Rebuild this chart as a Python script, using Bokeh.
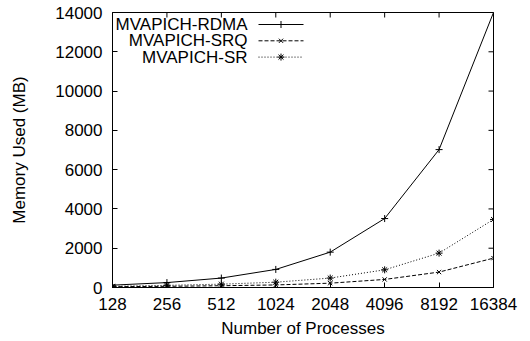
from bokeh.plotting import figure
from bokeh.models import FixedTicker, Label, BasicTickFormatter, Range1d
from bokeh.embed import file_html
from bokeh.resources import INLINE
import math

# ---- data ----
processes = [128, 256, 512, 1024, 2048, 4096, 8192, 16384]
rdma = [120, 250, 480, 920, 1800, 3510, 7020, 14000]
srq = [40, 60, 90, 130, 220, 410, 785, 1495]
sr = [60, 110, 170, 270, 480, 900, 1750, 3465]
series_names = ["MVAPICH-RDMA", "MVAPICH-SRQ", "MVAPICH-SR"]
y_ticks = [0, 2000, 4000, 6000, 8000, 10000, 12000, 14000]

FONT = "Liberation Sans"
FS = "17px"

W, H = 530, 341
L, R, T, B = 112, 37, 12, 54

p = figure(width=W, height=H, x_axis_type="log",
           x_range=Range1d(128, 16384), y_range=Range1d(0, 14000),
           output_backend="svg", toolbar_location=None,
           min_border_left=L, min_border_right=R,
           min_border_top=T, min_border_bottom=B)
p.grid.visible = False
p.outline_line_color = "black"
p.outline_line_width = 1
p.background_fill_color = "white"
p.border_fill_color = "white"

# axes
xa = p.xaxis[0]
xa.ticker = FixedTicker(ticks=processes)
xa.formatter = BasicTickFormatter(use_scientific=False)
ya = p.yaxis[0]
ya.ticker = FixedTicker(ticks=y_ticks)
ya.formatter = BasicTickFormatter(use_scientific=False)
for ax in (xa, ya):
    ax.major_tick_in = 5
    ax.major_tick_out = 0
    ax.minor_tick_line_color = None
    ax.axis_line_color = "black"
    ax.major_tick_line_color = "black"
    ax.major_label_text_font = FONT
    ax.major_label_text_font_size = FS
    ax.major_label_text_color = "black"
    ax.axis_label_text_font = FONT
    ax.axis_label_text_font_size = FS
    ax.axis_label_text_font_style = "normal"
    ax.axis_label_text_color = "black"
xa.axis_label = "Number of Processes"
ya.axis_label = "Memory Used (MB)"
xa.major_label_standoff = 10
xa.axis_label_standoff = 6
ya.major_label_standoff = 10
ya.axis_label_standoff = 23

# ---- frame geometry helpers (pixel -> data) ----
fw = W - L - R
fh = H - T - B
lo, hi = math.log2(128), math.log2(16384)
y_max = 14000


def px_to_x(px):
    return 2 ** (lo + (px - L) / fw * (hi - lo))


def px_to_y(py):
    return (T + fh - py) / fh * y_max


# mirror ticks on top and right edges (inward, 5 px)
tick_len_y = 5 / fh * y_max
p.segment(x0=processes, y0=[y_max] * len(processes),
          x1=processes, y1=[y_max - tick_len_y] * len(processes),
          line_color="black", line_width=1)
right_x0 = 16384
right_x1 = 2 ** (hi - 5 / fw * (hi - lo))
p.segment(x0=[right_x0] * len(y_ticks), y0=y_ticks,
          x1=[right_x1] * len(y_ticks), y1=y_ticks,
          line_color="black", line_width=1)

styles = [
    dict(line_dash="solid", marker="cross", size=7),
    dict(line_dash="4 2", marker="x", size=6),
    dict(line_dash="1 2", marker="asterisk", size=7),
]
values = [rdma, srq, sr]
for vals, st in zip(values, styles):
    p.line(processes, vals, line_color="black", line_width=1, line_dash=st["line_dash"])
    p.scatter(processes, vals, marker=st["marker"], size=st["size"],
              line_color="black", fill_color="black", line_width=1)

# ---- gnuplot-style key (text right-aligned, sample to the right) ----
rows = [24, 40.3, 56.6]
for name, st, ry in zip(series_names, styles, rows):
    yv = px_to_y(ry)
    p.add_layout(Label(x=px_to_x(247), y=yv, text=name, text_align="right",
                       text_baseline="middle", text_font=FONT,
                       text_font_size=FS, text_color="black"))
    p.line([px_to_x(258), px_to_x(303)], [yv, yv], line_color="black",
           line_width=1, line_dash=st["line_dash"])
    p.scatter([px_to_x(280.5)], [yv], marker=st["marker"], size=st["size"],
              line_color="black", fill_color="black")

open("out.html", "w").write(file_html(p, INLINE))
